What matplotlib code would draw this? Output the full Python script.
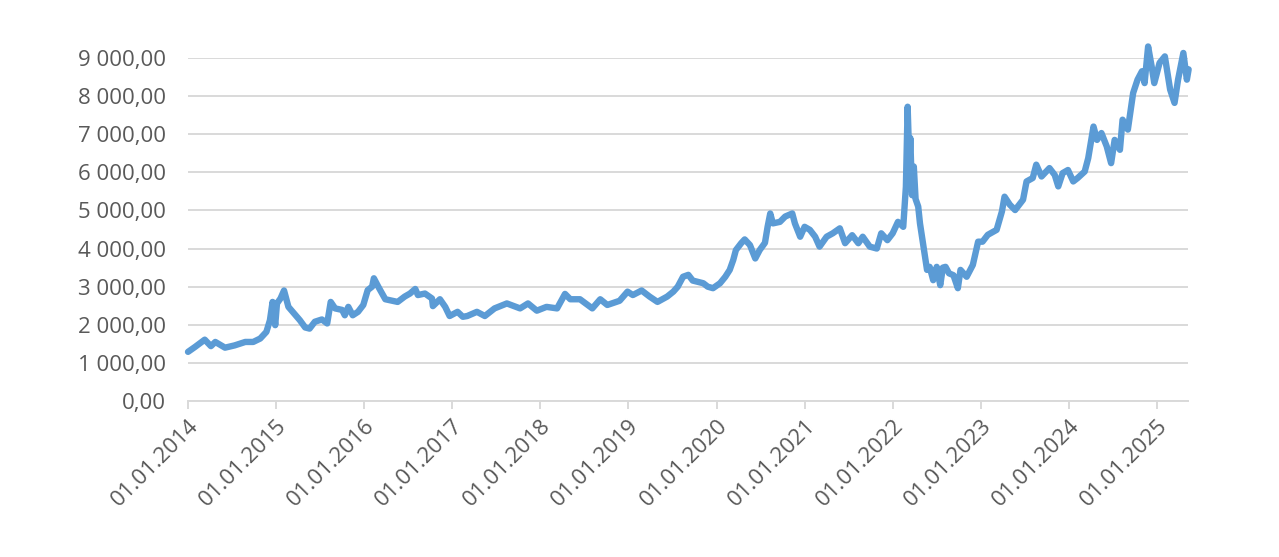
import numpy as np
import pandas as pd
import matplotlib
matplotlib.use('Agg')
from matplotlib import pyplot as plt
from matplotlib.ticker import FuncFormatter

# Data (time in decimal years, price)
years = [
    2014.00, 2014.08, 2014.19, 2014.26, 2014.31, 2014.42, 2014.53, 2014.65, 2014.74, 2014.82,
    2014.89, 2014.93, 2014.96, 2014.99, 2015.01, 2015.05, 2015.09, 2015.14, 2015.21, 2015.27,
    2015.33, 2015.38, 2015.44, 2015.52, 2015.58, 2015.62, 2015.67, 2015.75, 2015.78, 2015.82,
    2015.87, 2015.93, 2015.99, 2016.04, 2016.09, 2016.11, 2016.16, 2016.24, 2016.32, 2016.38,
    2016.46, 2016.52, 2016.58, 2016.61, 2016.69, 2016.77, 2016.78, 2016.86, 2016.92, 2016.97,
    2017.06, 2017.12, 2017.17, 2017.28, 2017.37, 2017.48, 2017.62, 2017.77, 2017.86, 2017.96,
    2018.07, 2018.19, 2018.28, 2018.34, 2018.45, 2018.59, 2018.68, 2018.76, 2018.90, 2018.99,
    2019.05, 2019.15, 2019.24, 2019.33, 2019.44, 2019.51, 2019.56, 2019.62, 2019.68, 2019.73,
    2019.85, 2019.90, 2019.96, 2020.04, 2020.10, 2020.15, 2020.19, 2020.22, 2020.28, 2020.32,
    2020.38, 2020.44, 2020.49, 2020.55, 2020.58, 2020.61, 2020.64, 2020.72, 2020.78, 2020.86,
    2020.89, 2020.95, 2021.00, 2021.06, 2021.12, 2021.17, 2021.25, 2021.32, 2021.40, 2021.46,
    2021.54, 2021.61, 2021.66, 2021.74, 2021.82, 2021.87, 2021.94, 2022.00, 2022.06, 2022.12,
    2022.15, 2022.17, 2022.19, 2022.20, 2022.22, 2022.24, 2022.26, 2022.29, 2022.31, 2022.35,
    2022.39, 2022.42, 2022.46, 2022.50, 2022.54, 2022.57, 2022.60, 2022.64, 2022.69, 2022.74,
    2022.77, 2022.84, 2022.91, 2022.97, 2023.02, 2023.08, 2023.18, 2023.24, 2023.27, 2023.33,
    2023.39, 2023.48, 2023.52, 2023.59, 2023.63, 2023.69, 2023.78, 2023.84, 2023.88, 2023.93,
    2023.99, 2024.05, 2024.10, 2024.18, 2024.22, 2024.28, 2024.32, 2024.37, 2024.43, 2024.48,
    2024.52, 2024.58, 2024.61, 2024.67, 2024.73, 2024.78, 2024.83, 2024.86, 2024.90, 2024.94,
    2024.97, 2025.03, 2025.09, 2025.15, 2025.20, 2025.24, 2025.30, 2025.34, 2025.36,
]
prices = [
    1290, 1420, 1610, 1440, 1550, 1400, 1460, 1550, 1550, 1640,
    1815, 2120, 2600, 1990, 2560, 2690, 2900, 2470, 2280, 2120,
    1930, 1900, 2080, 2140, 2035, 2600, 2430, 2390, 2250, 2470,
    2250, 2340, 2520, 2910, 3000, 3220, 3000, 2670, 2630, 2600,
    2740, 2820, 2940, 2780, 2820, 2690, 2490, 2670, 2470, 2230,
    2340, 2210, 2230, 2340, 2230, 2430, 2560, 2430, 2560, 2370,
    2470, 2430, 2810, 2670, 2670, 2430, 2670, 2520, 2630, 2870,
    2780, 2900, 2740, 2600, 2740, 2870, 3000, 3260, 3310, 3160,
    3090, 3000, 2960, 3090, 3260, 3440, 3700, 3960, 4140, 4240,
    4090, 3740, 3960, 4150, 4570, 4920, 4660, 4700, 4840, 4920,
    4660, 4310, 4570, 4490, 4310, 4050, 4310, 4400, 4530, 4140,
    4350, 4140, 4310, 4050, 4000, 4400, 4220, 4400, 4700, 4570,
    5620, 7720, 6200, 6900, 5400, 6150, 5300, 5100, 4660, 4050,
    3440, 3520, 3170, 3520, 3040, 3500, 3520, 3350, 3300, 2960,
    3440, 3260, 3570, 4180, 4180, 4360, 4490, 4970, 5360, 5150,
    5010, 5280, 5760, 5850, 6200, 5890, 6110, 5930, 5630, 5980,
    6060, 5760, 5850, 6020, 6370, 7200, 6850, 7030, 6680, 6240,
    6850, 6590, 7380, 7120, 8080, 8430, 8650, 8340, 9300, 8780,
    8340, 8870, 9040, 8170, 7820, 8430, 9130, 8430, 8700,
]
tick_years = list(range(2014, 2026))
tick_labels = [f'01.01.{y}' for y in tick_years]

plt.rcParams['font.family'] = ['Open Sans', 'DejaVu Sans']

fig = plt.figure(figsize=(12.79, 5.57), dpi=100)
ax = fig.add_axes([0.147, 0.280, 0.782, 0.616])

ax.plot(years, prices, color='#5B9BD5', linewidth=4.6, solid_joinstyle='round',
        solid_capstyle='round', clip_on=False, zorder=3)

ax.set_xlim(2014.0, 2025.355)
ax.set_ylim(0, 9000)
ax.set_yticks(np.arange(0, 9001, 1000))
ax.yaxis.set_major_formatter(FuncFormatter(
    lambda v, p: f'{v:,.2f}'.replace(',', ' ').replace('.', ',')))
ax.set_xticks(tick_years)
ax.set_xticklabels(tick_labels, rotation=45, ha='right', rotation_mode='anchor')

ax.grid(axis='y', color='#D9D9D9', linewidth=1.4, zorder=0)
for s in ['top', 'right', 'left']:
    ax.spines[s].set_visible(False)
ax.spines['bottom'].set_color('#D9D9D9')
ax.spines['bottom'].set_linewidth(1.4)
ax.tick_params(axis='y', length=0, pad=16, labelsize=16, labelcolor='#595959')
ax.tick_params(axis='x', direction='out', length=6, width=1.4, color='#D9D9D9',
               pad=4, labelsize=16, labelcolor='#595959')

plt.savefig('out.png', dpi=100)
